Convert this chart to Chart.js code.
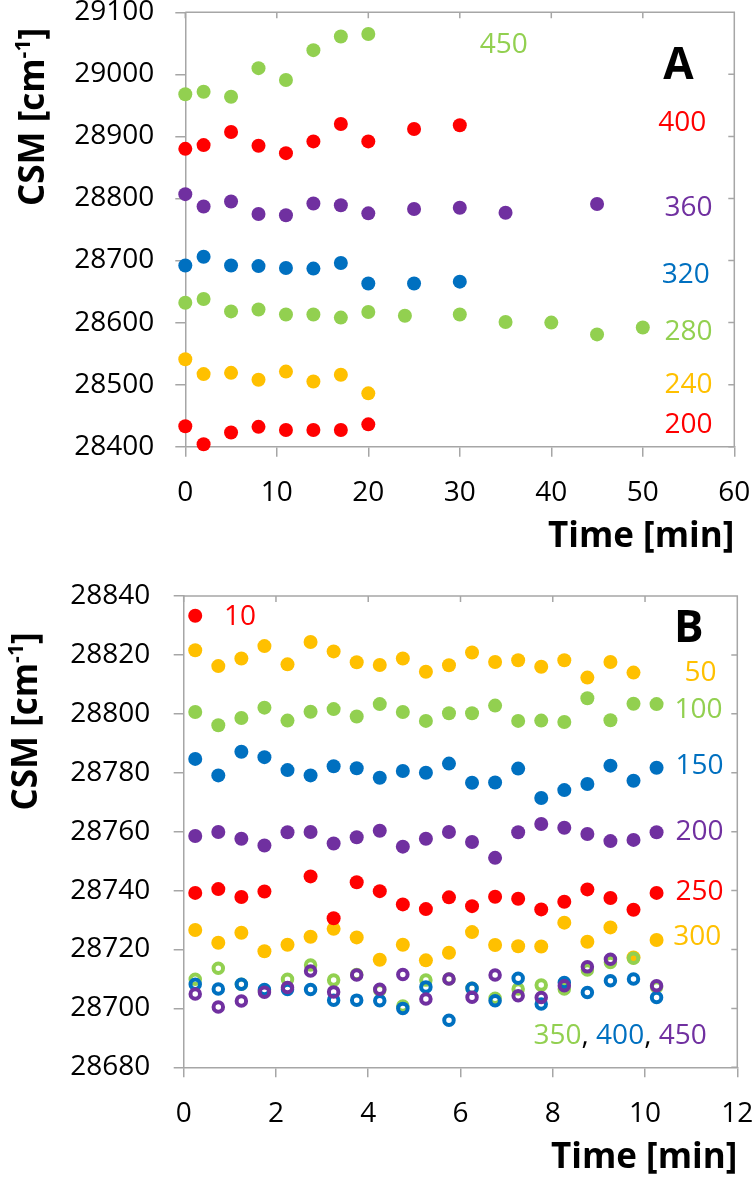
<!DOCTYPE html>
<html lang="en">
<head>
<meta charset="UTF-8">
<title>CSM vs time</title>
<script src="https://cdn.jsdelivr.net/npm/chart.js"></script>
<style>
  body { margin: 0; background: #fff; }
  canvas { position: absolute; left: 0; }
  #chartA { top: 0; }
  #chartB { top: 575px; }
</style>
</head>
<body>
<canvas id="chartA" width="754" height="575"></canvas>
<canvas id="chartB" width="754" height="606"></canvas>
<script>
// ---- panel A data (time in min, CSM in cm-1) ----
const timeA450 = [0, 2, 5, 8, 11, 14, 17, 20];
const csmA450  = [28968, 28972, 28964, 29010, 28991, 29039, 29061, 29065];
const timeA400 = [0, 2, 5, 8, 11, 14, 17, 20, 25, 30];
const csmA400  = [28880, 28886, 28907, 28885, 28873, 28892, 28920, 28892, 28912, 28918];
const timeA360 = [0, 2, 5, 8, 11, 14, 17, 20, 25, 30, 35, 45];
const csmA360  = [28807, 28787, 28795, 28775, 28773, 28792, 28789, 28776, 28783, 28785, 28777, 28791];
const timeA320 = [0, 2, 5, 8, 11, 14, 17, 20, 25, 30];
const csmA320  = [28692, 28706, 28692, 28691, 28688, 28687, 28696, 28663, 28663, 28666];
const timeA280 = [0, 2, 5, 8, 11, 14, 17, 20, 24, 30, 35, 40, 45, 50];
const csmA280  = [28632, 28638, 28618, 28621, 28613, 28613, 28608, 28617, 28611, 28613, 28601, 28600, 28581, 28592];
const timeA240 = [0, 2, 5, 8, 11, 14, 17, 20];
const csmA240  = [28541, 28517, 28519, 28508, 28521, 28505, 28516, 28486];
const timeA200 = [0, 2, 5, 8, 11, 14, 17, 20];
const csmA200  = [28433, 28404, 28423, 28432, 28427, 28427, 28427, 28436];

const xTicksA = [0, 10, 20, 30, 40, 50, 60];
const yTicksA = [28400, 28500, 28600, 28700, 28800, 28900, 29000, 29100];

// ---- panel B data ----
const timeB = [0.25, 0.75, 1.25, 1.75, 2.25, 2.75, 3.25, 3.75, 4.25, 4.75, 5.25,
               5.75, 6.25, 6.75, 7.25, 7.75, 8.25, 8.75, 9.25, 9.75, 10.25];
const timeB10 = [0.25];
const csmB10  = [28833.3];
const csmB50  = [28821.6, 28816.2, 28818.8, 28823, 28816.8, 28824.4, 28821.2, 28817.5, 28816.6, 28818.8, 28814.3,
                 28816.5, 28820.8, 28817.6, 28818.2, 28816, 28818.2, 28812.3, 28817.6, 28814, null];
const csmB100 = [28800.6, 28796.1, 28798.6, 28802.1, 28797.7, 28800.7, 28801.6, 28799.1, 28803.3, 28800.6, 28797.6,
                 28800.2, 28800.2, 28802.8, 28797.6, 28797.7, 28797.2, 28805.3, 28797.8, 28803.4, 28803.3];
const csmB150 = [28784.7, 28779.1, 28787.1, 28785.3, 28780.9, 28779.1, 28782.2, 28781.5, 28778.3, 28780.6, 28780,
                 28783.1, 28776.6, 28776.7, 28781.4, 28771.4, 28774.1, 28776.2, 28782.4, 28777.3, 28781.7];
const csmB200 = [28758.5, 28759.9, 28757.6, 28755.3, 28759.8, 28759.9, 28756, 28758.1, 28760.3, 28754.9, 28757.6,
                 28759.9, 28756.5, 28751.1, 28759.8, 28762.6, 28761.3, 28759.2, 28756.8, 28757.2, 28759.8];
const csmB250 = [28739.2, 28740.5, 28737.8, 28739.7, null, 28744.8, 28730.6, 28742.8, 28739.8, 28735.3, 28733.7,
                 28737.7, 28734.7, 28737.9, 28737.2, 28733.6, 28736.2, 28740.4, 28737.5, 28733.5, 28739.2];
const csmB300 = [28726.6, 28722.3, 28725.7, 28719.4, 28721.6, 28724.3, 28727, 28724.1, 28716.5, 28721.6, 28716.3,
                 28718.9, 28725.9, 28721.5, 28721.1, 28721, 28729.1, 28722.6, 28727.5, 28717.3, 28723.2];
const csmB350 = [28709.9, 28713.6, 28708.2, 28706, 28709.9, 28714.7, 28709.6, 28711.5, 28706.2, 28700.8, 28709.6,
                 28710, 28706.8, 28703.4, 28706.6, 28707.9, 28706.6, 28713, 28715.6, 28717, 28707.3];
const csmB400 = [28708.2, 28706.6, 28708.2, 28706.4, 28706.4, 28706.4, 28702.8, 28702.8, 28702.6, 28700, 28707.3,
                 28696, 28706.8, 28702.6, 28710.2, 28701.5, 28708.8, 28705.4, 28709.4, 28710, 28703.7];
const csmB450 = [28704.9, 28700.5, 28702.5, 28705.5, 28707.1, 28712.7, 28705.6, 28711.3, 28706.5, 28711.5, 28703.2,
                 28710, 28703.8, 28711.3, 28704.3, 28703.7, 28707.7, 28714.1, 28716.7, null, 28707.7];

const xTicksB = [0, 2, 4, 6, 8, 10, 12];
const yTicksB = [28680, 28700, 28720, 28740, 28760, 28780, 28800, 28820, 28840];

const GREEN = '#92d050', RED = '#ff0000', PURPLE = '#7030a0', BLUE = '#0070c0', YELLOW = '#ffc000';
const AXIS = '#a6a6a6';
const FAMILY = "'Open Sans', 'DejaVu Sans', sans-serif";

Chart.defaults.font.family = FAMILY;
Chart.defaults.color = '#000';

function pts(xs, ys) {
  return xs.map((x, i) => ({ x: x, y: ys[i] }));
}
function dots(xs, ys, color, order) {
  return { data: pts(xs, ys), pointBackgroundColor: color, pointBorderWidth: 0, pointRadius: 7,
           pointHoverRadius: 7, clip: false, order: order };
}
function rings(xs, ys, color, order) {
  return { data: pts(xs, ys), pointBackgroundColor: 'rgba(0,0,0,0)', pointBorderColor: color,
           pointBorderWidth: 4, pointRadius: 4.75, pointHoverRadius: 4.75, clip: false, order: order };
}

// in-plot labels, placed in data units
const labelsA = [
  { parts: [['450', GREEN]], x: 34.8, y: 29048 },
  { parts: [['A', '#000']], x: 53.9, y: 29013, bold: true },
  { parts: [['400', RED]], x: 54.3, y: 28922 },
  { parts: [['360', PURPLE]], x: 55, y: 28784 },
  { parts: [['320', BLUE]], x: 54.7, y: 28677 },
  { parts: [['280', GREEN]], x: 55, y: 28585 },
  { parts: [['240', YELLOW]], x: 55, y: 28500 },
  { parts: [['200', RED]], x: 55, y: 28435 }
];
const labelsB = [
  { parts: [['B', '#000']], x: 10.95, y: 28828.5, bold: true },
  { parts: [['10', RED]], x: 1.22, y: 28832.8 },
  { parts: [['50', YELLOW]], x: 11.2, y: 28814 },
  { parts: [['100', GREEN]], x: 11.16, y: 28801.3 },
  { parts: [['150', BLUE]], x: 11.18, y: 28782.4 },
  { parts: [['200', PURPLE]], x: 11.18, y: 28759.8 },
  { parts: [['250', RED]], x: 11.18, y: 28739.6 },
  { parts: [['300', YELLOW]], x: 11.13, y: 28724.3 },
  { parts: [['350', GREEN], [', ', '#000'], ['400', BLUE], [', ', '#000'], ['450', PURPLE]], x: 9.46, y: 28690.7 }
];

// titleX: baseline of the rotated y title, titleStart: where the text begins (bottom)
function makeDecor(labels, titleX, titleStart) {
  return {
    id: 'decor',
    afterDraw(chart) {
      const { ctx, chartArea: a, scales: { x, y } } = chart;
      ctx.save();
      // top and right frame with inward ticks
      ctx.strokeStyle = AXIS;
      ctx.lineWidth = 1.5;
      ctx.beginPath();
      ctx.moveTo(a.left, a.top);
      ctx.lineTo(a.right, a.top);
      ctx.lineTo(a.right, a.bottom);
      x.ticks.forEach(t => {
        const px = x.getPixelForValue(t.value);
        ctx.moveTo(px, a.top);
        ctx.lineTo(px, a.top + 6);
      });
      y.ticks.forEach(t => {
        const py = y.getPixelForValue(t.value);
        ctx.moveTo(a.right, py);
        ctx.lineTo(a.right - 6, py);
      });
      ctx.stroke();

      // series labels
      ctx.textBaseline = 'middle';
      ctx.textAlign = 'left';
      labels.forEach(l => {
        ctx.font = l.bold ? 'bold 44px ' + FAMILY : '28px ' + FAMILY;
        const w = l.parts.reduce((s, p) => s + ctx.measureText(p[0]).width, 0);
        let px = x.getPixelForValue(l.x) - w / 2;
        const py = y.getPixelForValue(l.y);
        l.parts.forEach(p => {
          ctx.fillStyle = p[1];
          ctx.fillText(p[0], px, py);
          px += ctx.measureText(p[0]).width;
        });
      });

      // y axis title with superscript
      const big = 'bold 35px ' + FAMILY, small = 'bold 21px ' + FAMILY;
      ctx.translate(titleX, titleStart);
      ctx.rotate(-Math.PI / 2);
      ctx.fillStyle = '#000';
      ctx.textBaseline = 'alphabetic';
      let tx = 0;
      ctx.font = big;
      ctx.fillText('CSM [cm', tx, 0);
      tx += ctx.measureText('CSM [cm').width;
      ctx.font = small;
      ctx.fillText('-1', tx, -14);
      tx += ctx.measureText('-1').width;
      ctx.font = big;
      ctx.fillText(']', tx, 0);
      ctx.restore();
    }
  };
}

function makeOptions(o) {
  return {
    responsive: false,
    animation: false,
    devicePixelRatio: 1,
    layout: { padding: { left: 0, top: o.top, right: o.right, bottom: 0 } },
    plugins: { legend: { display: false }, tooltip: { enabled: false } },
    scales: {
      x: {
        type: 'linear', min: o.xTicks[0], max: o.xTicks[o.xTicks.length - 1],
        afterBuildTicks: s => { s.ticks = o.xTicks.map(v => ({ value: v })); },
        afterFit: s => { s.height = o.xHeight; s.paddingLeft = 0; s.paddingRight = 0; s.paddingTop = 0; s.paddingBottom = 0; },
        grid: { drawOnChartArea: false, tickLength: 10, color: AXIS, lineWidth: 1.5 },
        border: { color: AXIS, width: 1.5 },
        ticks: { padding: o.xPad, maxRotation: 0, autoSkip: false, font: { size: 28 }, callback: v => String(v) },
        title: { display: true, text: 'Time [min]', align: 'end', font: { size: 35, weight: 'bold' },
                 padding: { top: 0, bottom: o.titlePad } }
      },
      y: {
        type: 'linear', min: o.yTicks[0], max: o.yTicks[o.yTicks.length - 1],
        afterBuildTicks: s => { s.ticks = o.yTicks.map(v => ({ value: v })); },
        afterFit: s => { s.width = o.yWidth; s.paddingLeft = 0; s.paddingRight = 0; s.paddingTop = 0; s.paddingBottom = 0; },
        grid: { drawOnChartArea: false, tickLength: 10, color: AXIS, lineWidth: 1.5 },
        border: { color: AXIS, width: 1.5 },
        ticks: { padding: o.yPad, autoSkip: false, font: { size: 28 }, callback: v => String(v) }
      }
    }
  };
}

new Chart(document.getElementById('chartA'), {
  type: 'scatter',
  data: {
    datasets: [
      dots(timeA450, csmA450, GREEN, 1),
      dots(timeA400, csmA400, RED, 1),
      dots(timeA360, csmA360, PURPLE, 1),
      dots(timeA320, csmA320, BLUE, 1),
      dots(timeA280, csmA280, GREEN, 1),
      dots(timeA240, csmA240, YELLOW, 1),
      dots(timeA200, csmA200, RED, 1)
    ]
  },
  options: makeOptions({ top: 12.3, right: 19.7, xHeight: 128.3, yWidth: 185.3, xPad: 20, yPad: 21,
                         titlePad: 17, xTicks: xTicksA, yTicks: yTicksA }),
  plugins: [makeDecor(labelsA, 43.5, 206)]
});

new Chart(document.getElementById('chartB'), {
  type: 'scatter',
  data: {
    datasets: [
      rings(timeB, csmB450, PURPLE, 0),
      rings(timeB, csmB400, BLUE, 1),
      rings(timeB, csmB350, GREEN, 2),
      dots(timeB10, csmB10, RED, 3),
      dots(timeB, csmB50, YELLOW, 3),
      dots(timeB, csmB100, GREEN, 3),
      dots(timeB, csmB150, BLUE, 3),
      dots(timeB, csmB200, PURPLE, 3),
      dots(timeB, csmB250, RED, 3),
      dots(timeB, csmB300, YELLOW, 3)
    ]
  },
  options: makeOptions({ top: 21, right: 16.7, xHeight: 113.7, yWidth: 183.7, xPad: 20, yPad: 23.5,
                         titlePad: 1.5, xTicks: xTicksB, yTicks: yTicksB }),
  plugins: [makeDecor(labelsB, 37, 235.5)]
});
</script>
</body>
</html>
